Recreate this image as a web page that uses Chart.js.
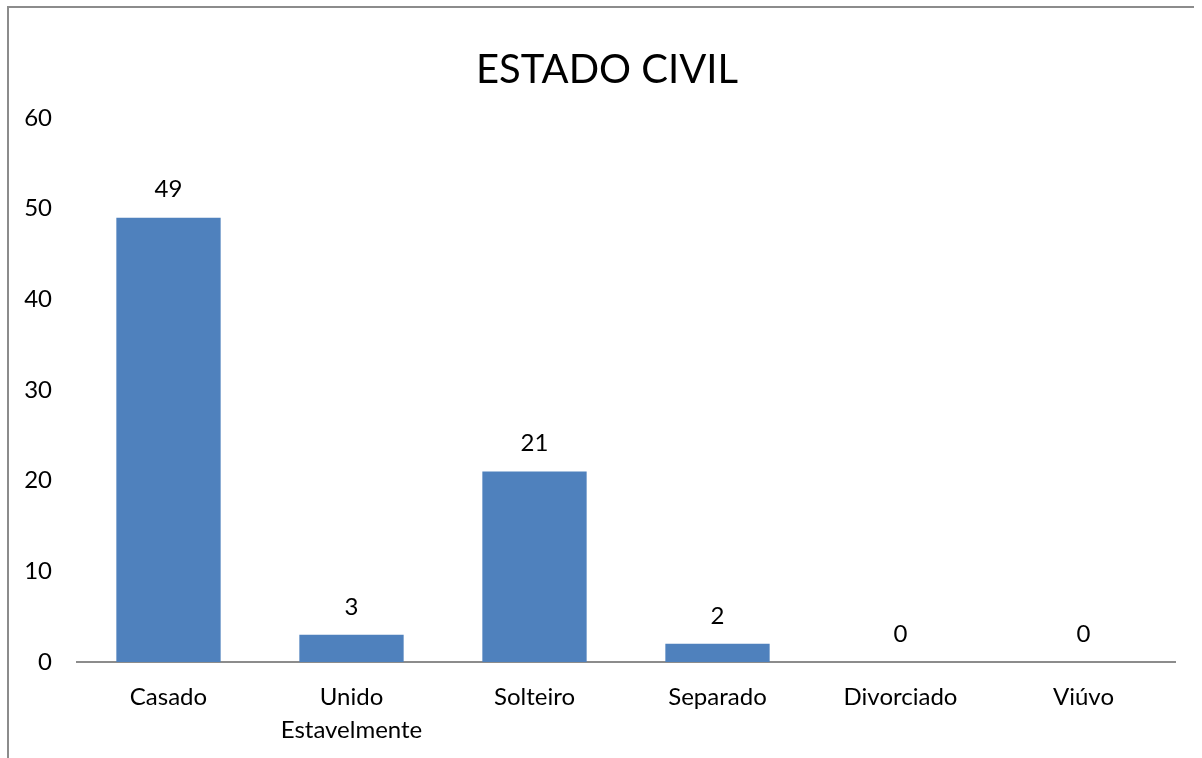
<!DOCTYPE html>
<html>
<head>
<meta charset="utf-8">
<script src="https://cdn.jsdelivr.net/npm/chart.js@4"></script>
<style>
  html, body { margin: 0; padding: 0; background: #fff; overflow: hidden; }
  #frame {
    position: absolute; left: 7px; top: 6px; width: 1185px; height: 760px;
    border-top: 2px solid #8c8c8c; border-left: 2px solid #8c8c8c;
  }
  #wrap { position: absolute; left: 0; top: 0; width: 1202px; height: 758px; }
</style>
</head>
<body>
<div id="frame"></div>
<div id="wrap"><canvas id="chart"></canvas></div>
<script>
  // dados
  const categorias = ["Casado", ["Unido", "Estavelmente"], "Solteiro", "Separado", "Divorciado", "Viúvo"];
  const valores = [49, 3, 21, 2, 0, 0];
  const titulo = "ESTADO CIVIL";

  const fonte = "Lato, 'Open Sans', sans-serif";

  // rotulos em cima das barras
  const rotulos = {
    id: "rotulos",
    afterDatasetsDraw(chart) {
      const ctx = chart.ctx;
      const meta = chart.getDatasetMeta(0);
      ctx.save();
      ctx.font = "24px " + fonte;
      ctx.fillStyle = "#000";
      ctx.textAlign = "center";
      ctx.textBaseline = "middle";
      meta.data.forEach((bar, i) => {
        ctx.fillText(String(valores[i]), bar.x, bar.y - 28);
      });
      ctx.restore();
    }
  };

  new Chart(document.getElementById("chart"), {
    type: "bar",
    data: {
      labels: categorias,
      datasets: [{
        data: valores,
        backgroundColor: "#4f81bd",
        barPercentage: 0.57,
        categoryPercentage: 1
      }]
    },
    options: {
      responsive: true,
      maintainAspectRatio: false,
      animation: false,
      layout: { padding: { top: 46, right: 0, bottom: 0, left: 12 } },
      plugins: {
        legend: { display: false },
        tooltip: { enabled: false },
        title: {
          display: true,
          text: titulo,
          color: "#000",
          font: { family: fonte, size: 40, weight: "normal" },
          padding: { top: 0, bottom: 24 }
        }
      },
      scales: {
        x: {
          grid: { display: false, drawTicks: false },
          border: { display: true, color: "#8c8c8c", width: 2 },
          ticks: { color: "#000", font: { family: fonte, size: 24, lineHeight: 1.4 }, padding: 18, maxRotation: 0, autoSkip: false },
          afterFit: s => { s.height = 96; }
        },
        y: {
          min: 0, max: 60,
          grid: { display: false, drawTicks: false },
          border: { display: false },
          ticks: { stepSize: 10, color: "#000", font: { family: fonte, size: 24 }, padding: 25 },
          afterFit: s => { s.width = 65; }
        },
        // eixo vazio so para dar a margem da direita
        y2: {
          position: "right",
          grid: { display: false, drawTicks: false },
          border: { display: false },
          ticks: { display: false },
          afterFit: s => { s.width = 27; }
        }
      }
    },
    plugins: [rotulos]
  });
</script>
</body>
</html>
